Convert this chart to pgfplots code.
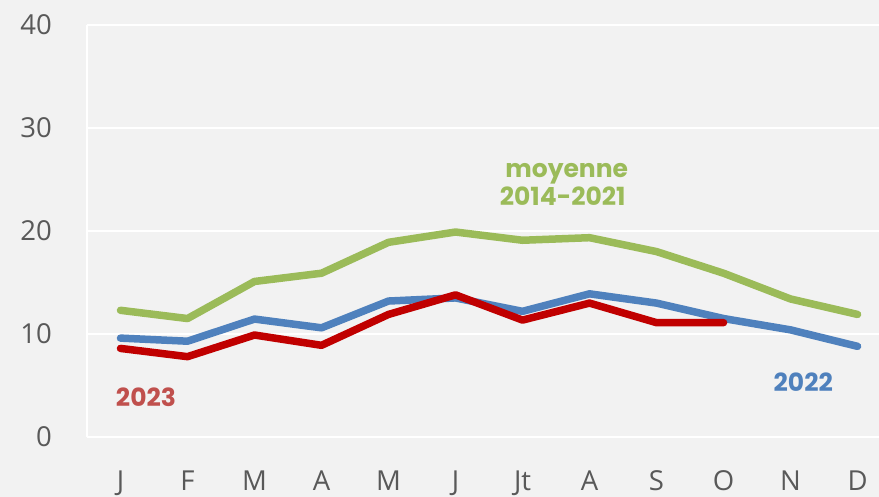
\documentclass[border=0pt]{standalone}
\usepackage{fontspec}
\setmainfont{Open Sans}
\newfontfamily\labfont{Poppins}
\usepackage{pgfplots}
\pgfplotsset{compat=1.18}
\definecolor{bg}{HTML}{F2F2F2}
\definecolor{cgreen}{HTML}{9BBB59}
\definecolor{cblue}{HTML}{4F81BD}
\definecolor{cred}{HTML}{C00000}
\definecolor{lred}{HTML}{C0504D}
\definecolor{tickgray}{HTML}{595959}
\begin{document}
\begin{tikzpicture}
\useasboundingbox[fill=bg] (-87pt,-60pt) rectangle (792pt,437pt);
\begin{axis}[
  at={(0,0)}, anchor=south west,
  scale only axis, width=792pt, height=412pt,
  xmin=0.5, xmax=12.32, ymin=0, ymax=40,
  xtick={1,...,12},
  xticklabels={J,F,M,A,M,J,Jt,A,S,O,N,D},
  ytick={0,10,20,30,40},
  axis x line*=bottom, axis y line*=left,
  axis line style={white, line width=2pt, -},
  ymajorgrids, grid style={white, line width=2pt},
  major tick length=0pt,
  /pgf/number format/assume math mode=true,
  tick label style={font=\fontsize{27.5}{27.5}\selectfont, text=tickgray},
  yticklabel style={anchor=east, inner sep=0pt, xshift=-35pt},
  xticklabel style={anchor=base, inner sep=0pt, yshift=-54pt},
  clip=false,
  every axis plot/.append style={line width=7.5pt, line join=round, line cap=round},
]
\addplot[cgreen] coordinates {(1,12.3) (2,11.5) (3,15.1) (4,15.9) (5,18.9) (6,19.9) (7,19.1) (8,19.35) (9,18.0) (10,15.9) (11,13.4) (12,11.9)};
\addplot[cblue] coordinates {(1,9.6) (2,9.3) (3,11.45) (4,10.6) (5,13.2) (6,13.5) (7,12.2) (8,13.9) (9,13.0) (10,11.5) (11,10.4) (12,8.8)};
\addplot[cred] coordinates {(1,8.6) (2,7.8) (3,9.9) (4,8.9) (5,11.9) (6,13.8) (7,11.35) (8,13.0) (9,11.1) (10,11.1)};
\node[font=\labfont\bfseries\fontsize{25}{25}\selectfont, text=lred] at (axis cs:1.38,3.9) {2023};
\node[font=\labfont\bfseries\fontsize{25}{25}\selectfont, text=cblue] at (axis cs:11.19,5.3) {2022};
\node[font=\labfont\bfseries\fontsize{25}{28}\selectfont, text=cgreen, align=center] at (axis cs:7.6,24.5) {\hspace*{8pt}moyenne\\2014-2021};
\end{axis}
\end{tikzpicture}
\end{document}
